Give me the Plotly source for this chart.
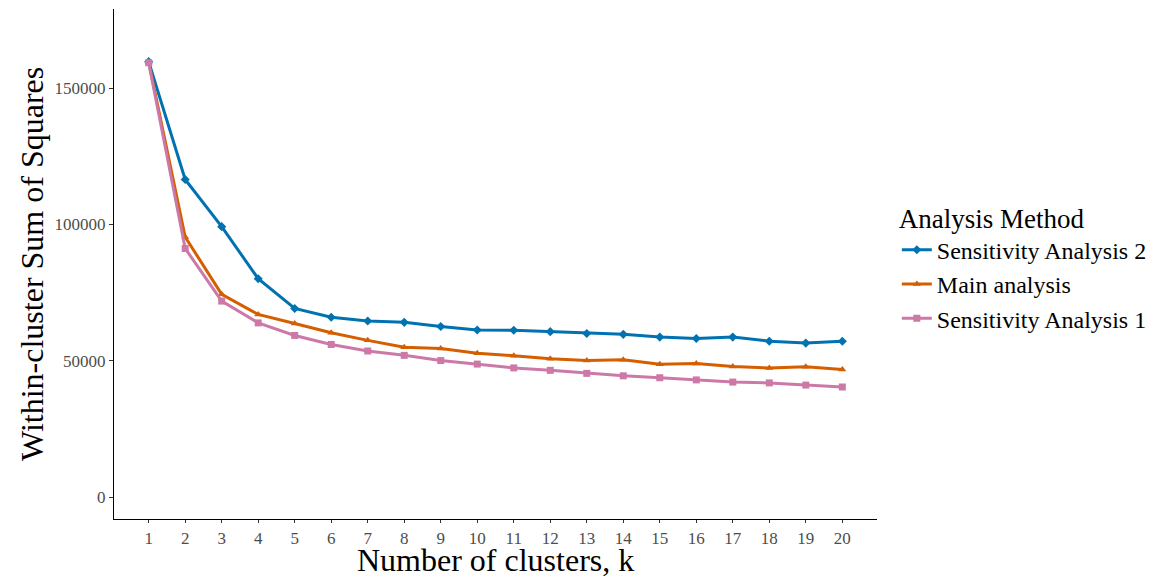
import plotly.graph_objects as go

k = list(range(1, 21))
sens2 = [159700, 116500, 99200, 80100, 69200, 66000, 64600, 64100, 62600, 61300,
         61200, 60700, 60000, 59700, 58700, 58200, 58700, 57200, 56500, 57200]
main = [159500, 95400, 74400, 67000, 63700, 60300, 57500, 55000, 54500, 52800,
        51900, 50800, 50100, 50400, 48700, 49000, 47900, 47400, 47800, 46800]
sens1 = [159300, 91200, 71900, 63900, 59300, 56000, 53600, 52000, 50100, 48800,
         47400, 46500, 45400, 44500, 43800, 43000, 42200, 41900, 41100, 40400]

series = [
    ("Sensitivity Analysis 2", sens2, "#0072B2", "diamond", 7),
    ("Main analysis", main, "#D55E00", "triangle-up", 7),
    ("Sensitivity Analysis 1", sens1, "#CC79A7", "square", 7),
]

fig = go.Figure()
for name, vals, col, sym, sz in series:
    fig.add_trace(go.Scatter(x=k, y=vals, name=name, mode="lines+markers",
                             line=dict(color=col, width=3),
                             marker=dict(color=col, symbol=sym, size=sz)))

font = "Liberation Serif, Times New Roman, serif"
fig.update_layout(
    width=1171, height=579,
    margin=dict(l=114, r=294, t=9, b=60),
    plot_bgcolor="white", paper_bgcolor="white",
    font=dict(family=font, color="black"),
    showlegend=True,
    legend=dict(x=1.026, xanchor="left", y=0.64, yanchor="top",
                title=dict(text="Analysis Method", font=dict(size=27)),
                font=dict(size=24), tracegroupgap=0, itemwidth=30),
    xaxis=dict(range=[0.05, 20.95], tickmode="array", tickvals=k,
               ticktext=[str(v) for v in k], automargin=False,
               showline=True, linecolor="black", linewidth=1.2,
               ticks="outside", ticklen=3, tickcolor="#333333",
               showgrid=False, zeroline=False,
               tickfont=dict(size=17, color="#4D4D4D", family=font)),
    yaxis=dict(range=[-8000, 179000], tickvals=[0, 50000, 100000, 150000],
               ticktext=["0", "50000", "100000", "150000"], automargin=False,
               showline=True, linecolor="black", linewidth=1.2,
               ticks="outside", ticklen=4, tickcolor="#333333",
               showgrid=False, zeroline=False,
               tickfont=dict(size=17, color="#4D4D4D", family=font)),
    annotations=[
        dict(text="Number of clusters, k", xref="paper", yref="paper",
             x=0.5, y=-0.081, xanchor="center", yanchor="middle",
             showarrow=False, font=dict(size=32, family=font, color="black")),
        dict(text="Within-cluster Sum of Squares", xref="paper", yref="paper",
             x=-0.1075, y=0.5, xanchor="center", yanchor="middle", textangle=-90,
             showarrow=False, font=dict(size=32, family=font, color="black")),
    ],
)

fig.write_html("out.html", config={"displayModeBar": False},
               post_script="document.body.style.margin='0';document.body.style.overflow='hidden';")
